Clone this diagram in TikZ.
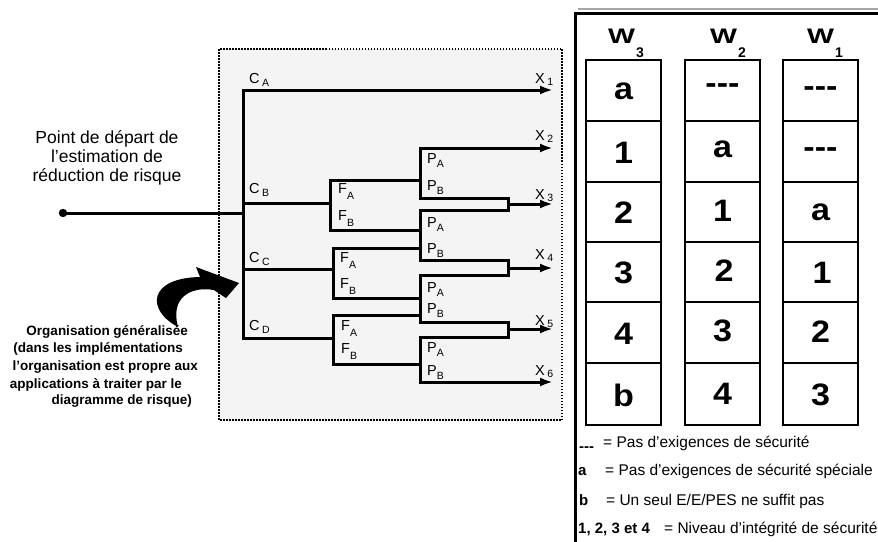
\documentclass[tikz,border=0pt]{standalone}
\usepackage{fontspec}
\setmainfont{Liberation Sans}
\usetikzlibrary{arrows.meta}
\definecolor{boxfill}{HTML}{F4F4F4}
\newcommand\lbsub[3]{#1\raisebox{-#3}{\fontsize{10.5}{10.5}\selectfont #2}}
\newcommand\wsub[1]{\scalebox{1.36}[1]{W}\hspace{1pt}\raisebox{-14pt}{\fontsize{14}{14}\selectfont #1}}
\begin{document}
\begin{tikzpicture}[x=1pt,y=-1pt,
  tline/.style={line width=3pt,line cap=rect,line join=miter},
  arr/.style={line width=3pt,line join=miter,-{Latex[length=13pt,width=9pt]}},
  lab/.style={anchor=base west,inner sep=0pt,font=\fontsize{14.5}{14.5}\selectfont},
  ltxt/.style={anchor=base,inner sep=0pt,font=\fontsize{17.5}{19}\selectfont},
  btxt/.style={anchor=base east,inner sep=0pt,font=\bfseries\fontsize{13.5}{17}\selectfont},
  cell/.style={inner sep=0pt,font=\bfseries\fontsize{31}{31}\selectfont},
  wlab/.style={anchor=base west,inner sep=0pt,font=\bfseries\fontsize{21}{21}\selectfont},
  key/.style={anchor=base west,inner sep=0pt,font=\bfseries\fontsize{15}{15}\selectfont},
  leg/.style={anchor=base west,inner sep=0pt,font=\fontsize{15.5}{15.5}\selectfont},
  colbox/.style={line width=2.6pt},
  rowline/.style={line width=2pt}]
\useasboundingbox (0,0) rectangle (878,541);

% dotted frame
\draw[fill=boxfill,line width=1.8pt,dash pattern=on 1.5pt off 1.5pt] (219,49) rectangle (562,420);

% coordinates
\coordinate (S) at (63,213);
\coordinate (R) at (243,213);
\coordinate (cA) at (243,90);
\coordinate (cB) at (243,203);
\coordinate (cC) at (243,269);
\coordinate (cD) at (243,338);
\coordinate (fB) at (330,203);
\coordinate (fBa) at (330,180);
\coordinate (fBb) at (330,230);
\coordinate (fC) at (333,269);
\coordinate (fCa) at (333,248);
\coordinate (fCb) at (333,298);
\coordinate (fD) at (333,338);
\coordinate (fDa) at (333,315);
\coordinate (fDb) at (333,364);
\coordinate (p1a) at (420,148);
\coordinate (p1b) at (420,198);
\coordinate (p2a) at (420,210);
\coordinate (p2b) at (420,260);
\coordinate (p3a) at (420,275);
\coordinate (p3b) at (420,322);
\coordinate (p4a) at (420,337);
\coordinate (p4b) at (420,382);
\coordinate (k3a) at (508,198);
\coordinate (k3b) at (508,210);
\coordinate (k3) at (508,204);
\coordinate (k4a) at (508,260);
\coordinate (k4b) at (508,275);
\coordinate (k4) at (508,268);
\coordinate (k5a) at (508,322);
\coordinate (k5b) at (508,337);
\coordinate (k5) at (508,329);
\coordinate (x1) at (553,90);
\coordinate (x2) at (553,148);
\coordinate (x3) at (553,204);
\coordinate (x4) at (553,268);
\coordinate (x5) at (553,329);
\coordinate (x6) at (553,382);

% tree
\fill (S) circle (4.2pt);
\draw[tline] (S) -- (R);
\draw[tline] (cD) -- (cA);
\draw[arr] (cA) -- (x1);
\draw[tline] (cB) -- (fB);
\draw[tline] (cC) -- (fC);
\draw[tline] (cD) -- (fD);
\draw[tline] (fBa -| p1a) -- (fBa) -- (fBb) -- (fBb -| p2a);
\draw[tline] (fCa -| p2a) -- (fCa) -- (fCb) -- (fCb -| p3a);
\draw[tline] (fDa -| p3a) -- (fDa) -- (fDb) -- (fDb -| p4a);
\draw[tline] (p1a) -- (p1b) -- (k3a) -- (k3b) -- (p2a) -- (p2b) -- (k4a) -- (k4b) -- (p3a) -- (p3b) -- (k5a) -- (k5b) -- (p4a) -- (p4b);
\draw[arr] (p1a) -- (x2);
\draw[arr] (k3) -- (x3);
\draw[arr] (k4) -- (x4);
\draw[arr] (k5) -- (x5);
\draw[arr] (p4b) -- (x6);

% tree labels
\node[lab] (lCA) at (249,83) {\lbsub{C\,}{A}{3.5pt}};
\node[lab] (lCB) at (249,193) {\lbsub{C\,}{B}{3.5pt}};
\node[lab] (lCC) at (249,262) {\lbsub{C\,}{C}{3.5pt}};
\node[lab] (lCD) at (249,330) {\lbsub{C\,}{D}{3.5pt}};
\node[lab] (lF1) at (338,193) {\lbsub{F}{A}{6pt}};
\node[lab] (lF2) at (338,220) {\lbsub{F}{B}{6pt}};
\node[lab] (lF3) at (340,262) {\lbsub{F}{A}{6pt}};
\node[lab] (lF4) at (340,288) {\lbsub{F}{B}{6pt}};
\node[lab] (lF5) at (341,330) {\lbsub{F}{A}{6pt}};
\node[lab] (lF6) at (341,353) {\lbsub{F}{B}{6pt}};
\node[lab] (lP1) at (427,163) {\lbsub{P}{A}{4.5pt}};
\node[lab] (lP2) at (427,190) {\lbsub{P}{B}{4.5pt}};
\node[lab] (lP3) at (427,227) {\lbsub{P}{A}{4.5pt}};
\node[lab] (lP4) at (427,253) {\lbsub{P}{B}{4.5pt}};
\node[lab] (lP5) at (427,292) {\lbsub{P}{A}{4.5pt}};
\node[lab] (lP6) at (427,313) {\lbsub{P}{B}{4.5pt}};
\node[lab] (lP7) at (427,352) {\lbsub{P}{A}{4.5pt}};
\node[lab] (lP8) at (427,375) {\lbsub{P}{B}{4.5pt}};
\node[lab] (lX1) at (535,83) {\lbsub{X\,}{1}{2.5pt}};
\node[lab] (lX2) at (535,140) {\lbsub{X\,}{2}{2.5pt}};
\node[lab] (lX3) at (535,199) {\lbsub{X\,}{3}{2.5pt}};
\node[lab] (lX4) at (535,259) {\lbsub{X\,}{4}{2.5pt}};
\node[lab] (lX5) at (535,325) {\lbsub{X\,}{5}{2.5pt}};
\node[lab] (lX6) at (535,375) {\lbsub{X\,}{6}{2.5pt}};

% left texts
\node[ltxt] (t1) at (107,143) {Point de départ de};
\node[ltxt] (t2) at (107,162) {l’estimation de};
\node[ltxt] (t3) at (107,181) {réduction de risque};

\node[btxt] (b1) at (188,335) {Organisation généralisée};
\node[btxt] (b2) at (183,352) {(dans les implémentations};
\node[btxt] (b3) at (198,370) {l’organisation est propre aux};
\node[btxt] (b4) at (182,388) {applications à traiter par le};
\node[btxt] (b5) at (192,404) {diagramme de risque)};

% curved fat arrow
\fill (178,327) .. controls (146,310) and (148,278) .. (200,277)
  -- (196,267) -- (239,283) -- (226,298) -- (214,290)
  .. controls (190,286) and (170,298) .. (178,327) -- cycle;

% right panel frame
\draw[black!35,line width=2pt] (578,9) -- (878,9);
\draw[line width=3pt,line cap=rect] (575,541) -- (575,13) -- (878,13);

% W headers
\node[wlab] (w3) at (608,43) {\wsub{3}};
\node[wlab] (w2) at (710,43) {\wsub{2}};
\node[wlab] (w1) at (807,43) {\wsub{1}};

% columns
\foreach \xa/\xb in {586/661,685/760,783/858}{
  \draw[colbox] (\xa,60) rectangle (\xb,425);
  \foreach \yy in {121,182,242,302,363}{
    \draw[rowline] (\xa,\yy) -- (\xb,\yy);
  }
}
\node[cell] (a1) at (623.5,91) {\scalebox{1.1}[1]{a}};
\node[cell] (a2) at (623.5,153) {\scalebox{1.1}[1]{1}};
\node[cell] (a3) at (623.5,213) {\scalebox{1.1}[1]{2}};
\node[cell] (a4) at (623.5,273) {\scalebox{1.1}[1]{3}};
\node[cell] (a5) at (623.5,334) {\scalebox{1.1}[1]{4}};
\node[cell] (a6) at (623.5,395) {\scalebox{1.1}[1]{b}};
\node[cell] (b1c) at (722.5,89) {\scalebox{1.1}[1]{-{}-{}-}};
\node[cell] (b2c) at (722.5,149) {\scalebox{1.1}[1]{a}};
\node[cell] (b3c) at (722.5,211) {\scalebox{1.1}[1]{1}};
\node[cell] (b4c) at (724,271) {\scalebox{1.1}[1]{2}};
\node[cell] (b5c) at (722.5,331) {\scalebox{1.1}[1]{3}};
\node[cell] (b6c) at (722.5,394) {\scalebox{1.1}[1]{4}};
\node[cell] (c1c) at (820.5,92) {\scalebox{1.1}[1]{-{}-{}-}};
\node[cell] (c2c) at (820.5,153) {\scalebox{1.1}[1]{-{}-{}-}};
\node[cell] (c3c) at (820.5,212) {\scalebox{1.1}[1]{a}};
\node[cell] (c4c) at (822,273) {\scalebox{1.1}[1]{1}};
\node[cell] (c5c) at (820.5,332) {\scalebox{1.1}[1]{2}};
\node[cell] (c6c) at (820.5,395) {\scalebox{1.1}[1]{3}};

% legend
\node[key] (k1) at (579,451) {-{}-{}-};
\node[key] (k2) at (578,475) {a};
\node[key] (k3k) at (579,505) {b};
\node[key] (k4k) at (578,533) {1, 2, 3 et 4};
\node[leg] (g1) at (603,447) {= Pas d’exigences de sécurité};
\node[leg] (g2) at (605,475) {= Pas d’exigences de sécurité spéciale};
\node[leg] (g3) at (606,505) {= Un seul E/E/PES ne suffit pas};
\node[leg] (g4) at (664,533) {= Niveau d’intégrité de sécurité};
\end{tikzpicture}
\end{document}
